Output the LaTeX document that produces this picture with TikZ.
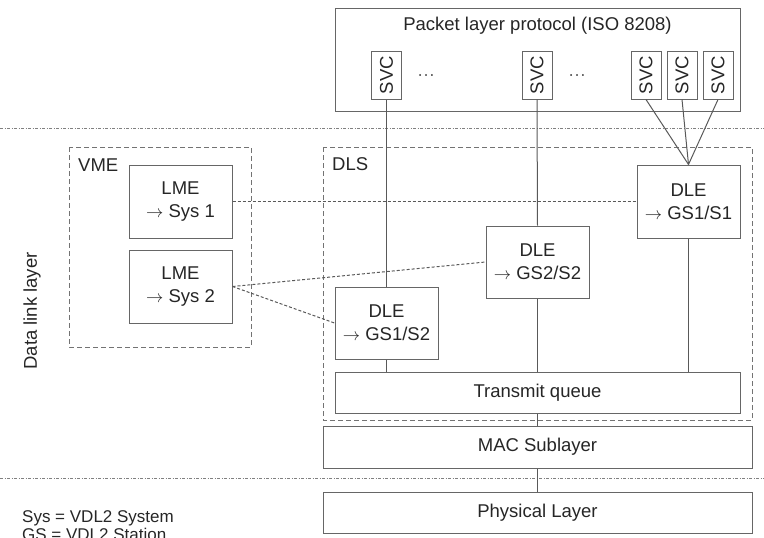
\documentclass[tikz,border=0pt]{standalone}
\usepackage{fontspec}
\usepackage{graphicx}
\setmainfont{Liberation Sans}
\begin{document}
\begin{tikzpicture}[x=1pt,y=-1pt,
  every node/.style={text=black!85, font=\fontsize{18.5}{23}\selectfont},
  box/.style={draw=black!60, line width=1pt, inner sep=0pt, align=center, fill=white},
  group/.style={draw=black!55, line width=1pt, dash pattern=on 5pt off 3pt},
  link/.style={draw=black!65, line width=1pt},
  assoc/.style={draw=black!65, line width=1pt, dash pattern=on 3pt off 2pt},
  sep/.style={draw=black!50, line width=0.9pt, dash pattern=on 3pt off 1.5pt on 1pt off 1.5pt},
  tag/.style={inner sep=0pt, anchor=base west}]
\useasboundingbox (0,0) rectangle (764,538);
\clip (0,0) rectangle (764,538);

% layer boundaries
\draw[sep] (0,128) -- (764,128);
\draw[sep] (0,478) -- (764,478);

% dashed groupings
\draw[group] (69,147) rectangle (251,347);
\draw[group] (323,147) rectangle (752,420);
\node[tag] (vmetag) at (78,171) {VME};
\node[tag] (dlstag) at (332,170) {DLS};

% packet layer with its virtual circuits
\node[box, minimum width=405pt, minimum height=103pt] (plp) at (537.5,59.5) {};
\node[inner sep=0pt] (plptitle) at (537.5,26) {Packet layer protocol (ISO 8208)};
\foreach \n/\x in {1/386.5, 2/537, 3/646, 4/682, 5/718}
  \node[box, minimum width=30pt, minimum height=48pt] (svc\n) at (\x,75) {\rotatebox{90}{SVC}};
\node[inner sep=0pt, text=black!60] (dotsa) at (426,76) {\ldots};
\node[inner sep=0pt, text=black!60] (dotsb) at (577,76) {\ldots};

% link management entities
\node[box, minimum width=103pt, minimum height=73pt] (lme1) at (180.5,201.5) {LME\\$\rightarrow$ Sys 1};
\node[box, minimum width=103pt, minimum height=73pt] (lme2) at (180.5,286.5) {LME\\$\rightarrow$ Sys 2};

% data link entities
\node[box, minimum width=103pt, minimum height=73pt] (dle1) at (688.5,201.5) {DLE\\$\rightarrow$ GS1/S1};
\node[box, minimum width=103pt, minimum height=72pt] (dle2) at (537.5,262) {DLE\\$\rightarrow$ GS2/S2};
\node[box, minimum width=103pt, minimum height=72pt] (dle3) at (386.5,323) {DLE\\$\rightarrow$ GS1/S2};

% lower stack
\node[box, minimum width=405pt, minimum height=41pt] (tq) at (537.5,392.5) {Transmit queue};
\node[box, minimum width=429pt, minimum height=42pt] (mac) at (537.5,447) {MAC Sublayer};
\node[box, minimum width=429pt, minimum height=41pt] (phy) at (537.5,512.5) {Physical Layer};

% circuit connections
\draw[link] (svc1.south) -- (dle3.north);
\draw[link] (dle3.south) -- (dle3.south |- tq.north);
\draw[link] (svc2.south) -- (dle2.north);
\draw[link] (dle2.south) -- (dle2.south |- tq.north);
\draw[link] (svc3.south) -- (dle1.north);
\draw[link] (svc4.south) -- (dle1.north);
\draw[link] (svc5.south) -- (dle1.north);
\draw[link] (dle1.south) -- (dle1.south |- tq.north);
\draw[link] (tq.south) -- (mac.north);
\draw[link] (mac.south) -- (phy.north);

% management associations
\draw[assoc] (lme1.east) -- (dle1.west);
\draw[assoc] (lme2.east) -- (dle2.west);
\draw[assoc] (lme2.east) -- (dle3.west);

% side labels and legend
\node[inner sep=0pt, rotate=90] (dll) at (32,311) {Data link layer};
\node[tag, font=\fontsize{17}{18}\selectfont] (leg1) at (22,522) {Sys = VDL2 System};
\node[tag, font=\fontsize{17}{18}\selectfont] (leg2) at (22,540) {GS = VDL2 Station};
\end{tikzpicture}
\end{document}
